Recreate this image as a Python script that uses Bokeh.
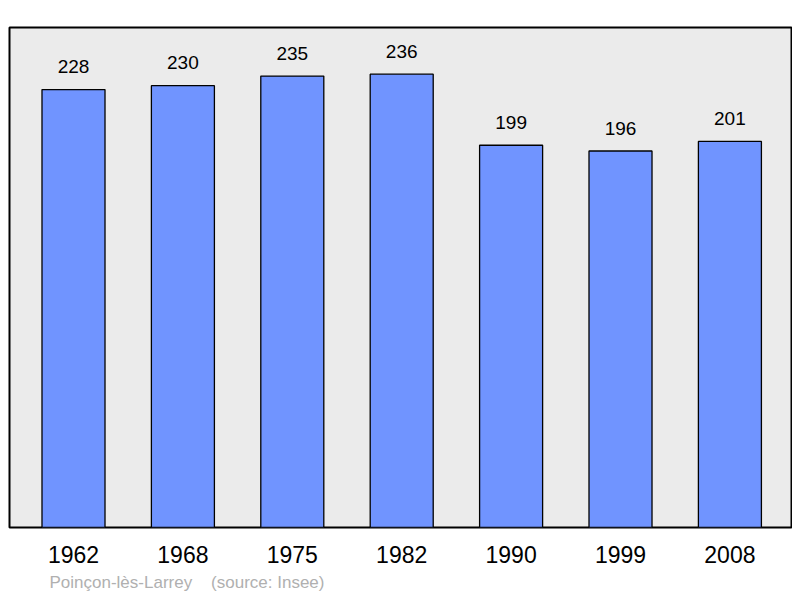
from bokeh.plotting import figure
from bokeh.models import ColumnDataSource, Range1d, Title
from bokeh.embed import file_html
from bokeh.resources import INLINE
from bokeh.core.properties import value

years = ["1962", "1968", "1975", "1982", "1990", "1999", "2008"]
population = [228, 230, 235, 236, 199, 196, 201]
caption = "Poinçon-lès-Larrey\u00a0\u00a0\u00a0\u00a0(source: Insee)"

xs = list(range(len(years)))
src = ColumnDataSource(dict(x=xs, top=population, lab=[str(v) for v in population]))

p = figure(width=792, height=596, output_backend="svg", toolbar_location=None,
           x_range=Range1d(-0.585, 6.563), y_range=Range1d(0, 260.3),
           min_border_left=9, min_border_right=1, min_border_top=27, min_border_bottom=68)
p.background_fill_color = "#ebebeb"
p.border_fill_color = "white"
p.outline_line_color = "black"
p.outline_line_width = 2
p.grid.visible = False
p.yaxis.visible = False

p.vbar(x="x", top="top", bottom=0, width=0.576, source=src,
       fill_color="#7094ff", line_color="black", line_width=1.3)
p.text(x="x", y="top", text="lab", source=src, text_align="center",
       text_baseline="middle", y_offset=-23, text_font=value("Liberation Sans"),
       text_font_size="19px", text_color="black")

ax = p.xaxis[0]
ax.ticker = xs
ax.major_label_overrides = {i: y for i, y in zip(xs, years)}
ax.axis_line_color = None
ax.major_tick_line_color = None
ax.minor_tick_line_color = None
ax.major_tick_out = 0
ax.major_label_standoff = 18
ax.major_label_text_font = "Liberation Sans"
ax.major_label_text_font_size = "23px"
ax.major_label_text_color = "black"

p.add_layout(Title(text=caption, align="left", offset=40, text_font="Liberation Sans",
                   text_font_size="17px", text_font_style="normal", text_color="#b0b0b0",
                   standoff=10), "below")

open("out.html", "w").write(file_html(p, INLINE))
